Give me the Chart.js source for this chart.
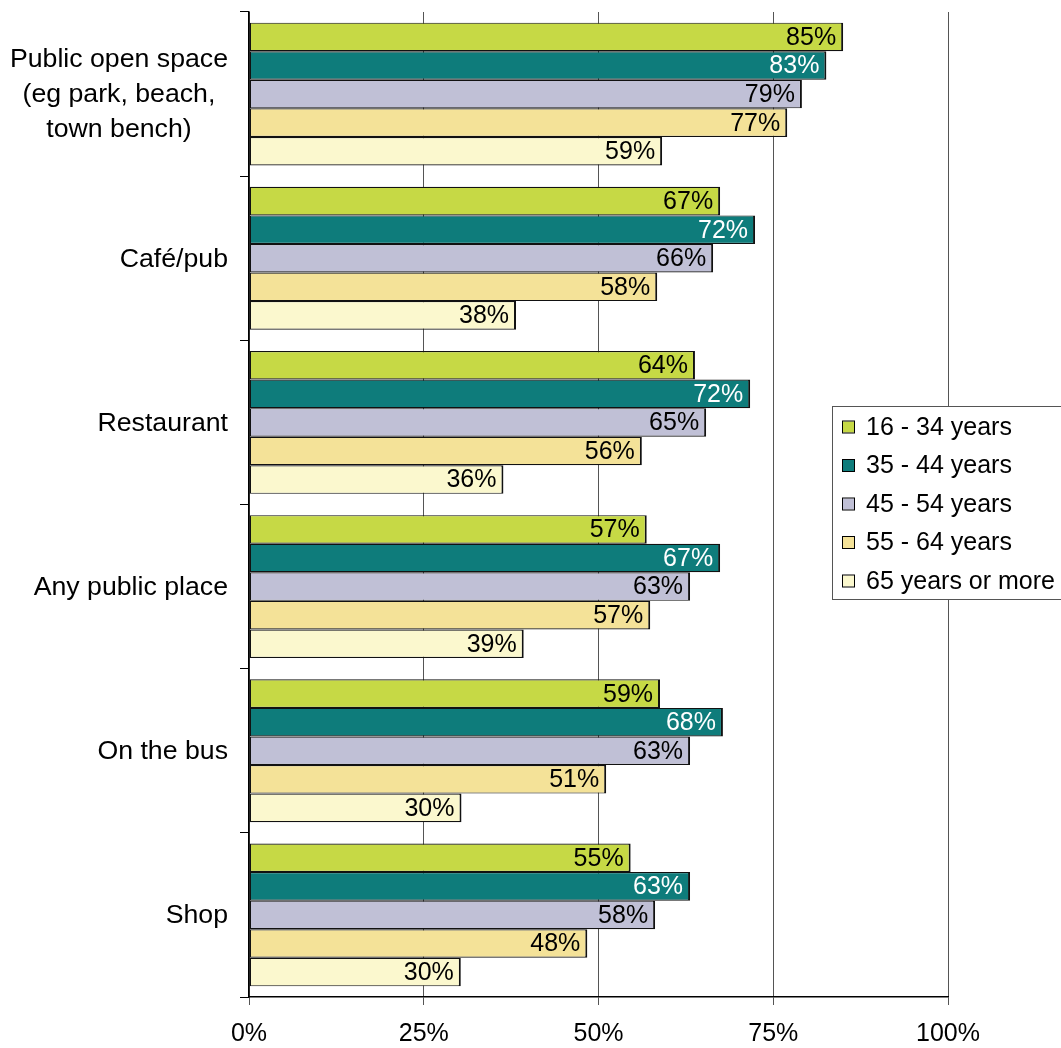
<!DOCTYPE html>
<html>
<head>
<meta charset="utf-8">
<script src="https://cdn.jsdelivr.net/npm/chart.js@4/dist/chart.umd.min.js"></script>
<style>
  html, body { margin: 0; padding: 0; background: #fff; }
  #wrap { width: 1061px; height: 1048px; }
</style>
</head>
<body>
<div id="wrap"><canvas id="chart" width="1061" height="1048"></canvas></div>
<script>
// categories top to bottom (multi-line labels as arrays)
const categories = [
  ['Public open space', '(eg park, beach,', 'town bench)'],
  'Café/pub',
  'Restaurant',
  'Any public place',
  'On the bus',
  'Shop'
];
const seriesNames = ['16 - 34 years', '35 - 44 years', '45 - 54 years', '55 - 64 years', '65 years or more'];

// values in percent
const age16to34 = [85.0, 67.4, 63.8, 56.9, 58.8, 54.6];
const age35to44 = [82.6, 72.4, 71.7, 67.4, 67.8, 63.1];
const age45to54 = [79.1, 66.4, 65.4, 63.1, 63.1, 58.1];
const age55to64 = [77.0, 58.4, 56.2, 57.4, 51.1, 48.4];
const age65plus = [59.1, 38.2, 36.4, 39.3, 30.4, 30.3];

const xTicks = [0, 25, 50, 75, 100];

const fills = ['#c6d945', '#0e7c7b', '#c0c0d6', '#f4e298', '#fbf8ce'];
const labelColors = ['#000', '#fff', '#000', '#000', '#000'];
const FONT = '"Liberation Sans", Arial, sans-serif';

Chart.defaults.color = '#000';
Chart.defaults.font.family = FONT;
Chart.defaults.font.size = 25;

// value labels inside the end of each bar
const barLabels = {
  id: 'barLabels',
  afterDatasetsDraw(chart) {
    const ctx = chart.ctx;
    ctx.save();
    ctx.font = '25px ' + FONT;
    ctx.textAlign = 'right';
    ctx.textBaseline = 'middle';
    chart.data.datasets.forEach((ds, i) => {
      ctx.fillStyle = labelColors[i];
      chart.getDatasetMeta(i).data.forEach((bar, j) => {
        ctx.fillText(Math.round(ds.data[j]) + '%', bar.x - 7, bar.y + 1);
      });
    });
    ctx.restore();
  }
};

// category labels: block right aligned, lines centred (like the original)
const catLabels = {
  id: 'catLabels',
  afterDraw(chart) {
    const ctx = chart.ctx;
    const y = chart.scales.y;
    const right = 228;
    const lh = 35;
    ctx.save();
    ctx.font = '26.7px ' + FONT;
    ctx.fillStyle = '#000';
    ctx.textAlign = 'center';
    ctx.textBaseline = 'middle';
    chart.data.labels.forEach((lab, j) => {
      const lines = Array.isArray(lab) ? lab : [lab];
      const w = Math.max(...lines.map(l => ctx.measureText(l).width));
      const cx = right - w / 2;
      const cy = y.getPixelForValue(j);
      lines.forEach((l, k) => {
        ctx.fillText(l, cx, cy + (k - (lines.length - 1) / 2) * lh + 1);
      });
    });
    ctx.restore();
  }
};

// boxed legend overlapping the right side of the plot
const boxLegend = {
  id: 'boxLegend',
  afterDraw(chart) {
    const ctx = chart.ctx;
    const x0 = 832, y0 = 406, w = 240, h = 193;
    ctx.save();
    ctx.fillStyle = '#fff';
    ctx.fillRect(x0, y0, w, h);
    ctx.strokeStyle = '#555';
    ctx.lineWidth = 1;
    ctx.strokeRect(x0 + 0.5, y0 + 0.5, w, h);
    ctx.font = '25px ' + FONT;
    ctx.textAlign = 'left';
    ctx.textBaseline = 'middle';
    chart.data.datasets.forEach((ds, i) => {
      const cy = 427 + i * 38.5;
      ctx.fillStyle = ds.backgroundColor;
      ctx.fillRect(843, cy - 5.5, 11, 11);
      ctx.strokeStyle = '#000';
      ctx.strokeRect(842.5, cy - 6, 12, 12);
      ctx.fillStyle = '#000';
      ctx.fillText(ds.label, 866, cy + 1);
    });
    ctx.restore();
  }
};

const seriesData = [age16to34, age35to44, age45to54, age55to64, age65plus];

new Chart(document.getElementById('chart'), {
  type: 'bar',
  data: {
    labels: categories,
    datasets: seriesNames.map((name, i) => ({
      label: name,
      data: seriesData[i],
      backgroundColor: fills[i],
      borderColor: '#111',
      borderWidth: { top: 1.2, bottom: 1.2, left: 1.5, right: 2 },
      borderSkipped: false,
      categoryPercentage: 0.87,
      barPercentage: 1.0
    }))
  },
  options: {
    indexAxis: 'y',
    responsive: false,
    animation: false,
    layout: { padding: { left: 0, right: 113, top: 12, bottom: 0 } },
    plugins: {
      legend: { display: false },
      tooltip: { enabled: false }
    },
    scales: {
      x: {
        min: 0,
        max: 100,
        afterFit: s => { s.height = 51; },
        afterBuildTicks: s => { s.ticks = xTicks.map(v => ({ value: v })); },
        ticks: {
          callback: v => v + '%',
          padding: 14,
          font: { size: 25 }
        },
        grid: { color: '#555', lineWidth: 1, tickLength: 8 },
        border: { color: '#000', width: 1.5 }
      },
      y: {
        afterFit: s => { s.width = 249; },
        ticks: { display: false },
        grid: { drawOnChartArea: false, color: '#000', tickLength: 9, offset: true },
        border: { color: '#000', width: 1.5 }
      }
    }
  },
  plugins: [barLabels, catLabels, boxLegend]
});
</script>
</body>
</html>
